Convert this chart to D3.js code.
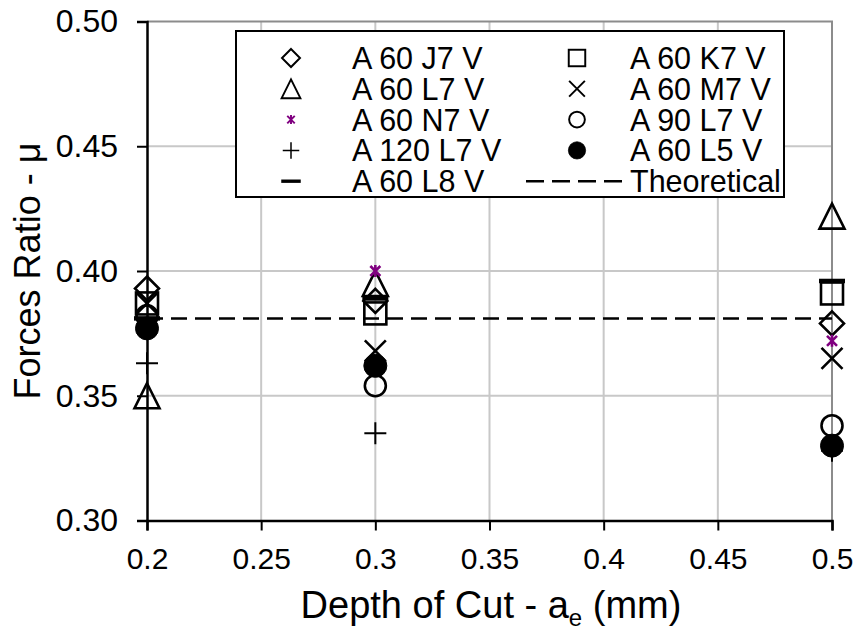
<!DOCTYPE html>
<html>
<head>
<meta charset="utf-8">
<script src="https://cdn.jsdelivr.net/npm/d3@7"></script>
<style>
  body { margin: 0; background: #fff; }
  svg text { font-family: "Liberation Sans", Arial, sans-serif; fill: #000; }
</style>
</head>
<body>
<svg id="chart" width="856" height="639"></svg>
<script>
// depth of cut values (mm)
var depth = [0.2, 0.3, 0.5];

// forces ratio per wheel
var J7 = [0.393, 0.388, 0.379];
var K7 = [0.387, 0.383, 0.391];
var L7 = [0.350, 0.395, 0.422];
var M7 = [0.387, 0.368, 0.365];
var N7 = [0.378, 0.400, 0.372];
var L7_90 = [0.382, 0.354, 0.338];
var L7_120 = [0.363, 0.335, 0.328];
var L5 = [0.377, 0.362, 0.330];
var L8 = [0.381, 0.389, 0.396];
var theoretical = 0.381;

var xTicks = [0.2, 0.25, 0.3, 0.35, 0.4, 0.45, 0.5];
var yTicks = [0.30, 0.35, 0.40, 0.45, 0.50];

var series = [
  {name: "A 60 J7 V", values: J7, shape: "diamond"},
  {name: "A 60 K7 V", values: K7, shape: "square"},
  {name: "A 60 L7 V", values: L7, shape: "triangle"},
  {name: "A 60 M7 V", values: M7, shape: "x"},
  {name: "A 60 N7 V", values: N7, shape: "star"},
  {name: "A 90 L7 V", values: L7_90, shape: "circle"},
  {name: "A 120 L7 V", values: L7_120, shape: "plus"},
  {name: "A 60 L5 V", values: L5, shape: "dot"},
  {name: "A 60 L8 V", values: L8, shape: "dash"}
];

var svg = d3.select("#chart");
var pLeft = 147, pRight = 832, pTop = 21.5, pBottom = 520.5;

var x = d3.scaleLinear().domain([0.2, 0.5]).range([pLeft, pRight]);
var y = d3.scaleLinear().domain([0.3, 0.5]).range([pBottom, pTop]);

// grid
svg.append("g").selectAll("line")
  .data(xTicks.slice(1, -1))
  .enter().append("line")
    .attr("x1", d => x(d)).attr("x2", d => x(d))
    .attr("y1", pTop).attr("y2", pBottom)
    .attr("stroke", "#c8c8c8").attr("stroke-width", 2);
svg.append("g").selectAll("line")
  .data(yTicks.slice(1, -1))
  .enter().append("line")
    .attr("x1", pLeft).attr("x2", pRight)
    .attr("y1", d => y(d)).attr("y2", d => y(d))
    .attr("stroke", "#c8c8c8").attr("stroke-width", 2);
// plot area border (top and right)
svg.append("path")
  .attr("d", "M" + pLeft + "," + pTop + "H" + pRight + "V" + pBottom)
  .attr("fill", "none").attr("stroke", "#8c8c8c").attr("stroke-width", 2);

// axes
var xAxis = svg.append("g").attr("transform", "translate(0," + pBottom + ")")
  .call(d3.axisBottom(x).tickValues(xTicks).tickFormat(d3.format("")).tickSize(10).tickPadding(17));
var yAxis = svg.append("g").attr("transform", "translate(" + pLeft + ",0)")
  .call(d3.axisLeft(y).tickValues(yTicks).tickFormat(d3.format(".2f")).tickSize(10).tickPadding(19));
[xAxis, yAxis].forEach(function(a){
  a.select(".domain").attr("stroke", "#000").attr("stroke-width", 2.5);
  a.selectAll(".tick line").attr("stroke", "#000").attr("stroke-width", 2);
  a.selectAll("text").style("font-size", "30px").attr("fill", "#000");
});
yAxis.selectAll("text").style("font-size", "32px");

// axis titles
svg.append("text")
  .attr("transform", "translate(40," + ((pTop + pBottom) / 2) + ") rotate(-90)")
  .attr("text-anchor", "middle")
  .style("font-size", "36px")
  .text("Forces Ratio - μ");
var xt = svg.append("text")
  .attr("x", 491).attr("y", 618)
  .attr("text-anchor", "middle")
  .style("font-size", "38px");
xt.append("tspan").text("Depth of Cut - a");
xt.append("tspan").attr("dy", 8).style("font-size", "24px").text("e");
xt.append("tspan").attr("dy", -8).text(" (mm)");

// marker shapes
function marker(g, shape, cx, cy) {
  if (shape === "diamond") {
    g.append("path").attr("d", "M" + cx + "," + (cy - 12) + "L" + (cx + 12) + "," + cy + "L" + cx + "," + (cy + 12) + "L" + (cx - 12) + "," + cy + "Z")
      .attr("fill", "none").attr("stroke", "#000").attr("stroke-width", 2.6);
  } else if (shape === "square") {
    g.append("rect").attr("x", cx - 11).attr("y", cy - 11).attr("width", 22).attr("height", 22)
      .attr("fill", "none").attr("stroke", "#000").attr("stroke-width", 2.6);
  } else if (shape === "triangle") {
    g.append("path").attr("d", "M" + cx + "," + (cy - 12.5) + "L" + (cx + 12.5) + "," + (cy + 12.5) + "L" + (cx - 12.5) + "," + (cy + 12.5) + "Z")
      .attr("fill", "none").attr("stroke", "#000").attr("stroke-width", 2.6);
  } else if (shape === "x") {
    g.append("path").attr("d", "M" + (cx - 10.5) + "," + (cy - 10.5) + "L" + (cx + 10.5) + "," + (cy + 10.5) + "M" + (cx + 10.5) + "," + (cy - 10.5) + "L" + (cx - 10.5) + "," + (cy + 10.5))
      .attr("stroke", "#000").attr("stroke-width", 2.6);
  } else if (shape === "star") {
    g.append("path").attr("d", "M" + (cx - 5) + "," + (cy - 5) + "L" + (cx + 5) + "," + (cy + 5) + "M" + (cx + 5) + "," + (cy - 5) + "L" + (cx - 5) + "," + (cy + 5) + "M" + cx + "," + (cy - 6) + "L" + cx + "," + (cy + 6))
      .attr("stroke", "#800080").attr("stroke-width", 2.6);
  } else if (shape === "circle") {
    g.append("circle").attr("cx", cx).attr("cy", cy).attr("r", 10.5)
      .attr("fill", "none").attr("stroke", "#000").attr("stroke-width", 2.6);
  } else if (shape === "dot") {
    g.append("circle").attr("cx", cx).attr("cy", cy).attr("r", 11.5)
      .attr("fill", "#000").attr("stroke", "#000").attr("stroke-width", 1);
  } else if (shape === "plus") {
    g.append("path").attr("d", "M" + (cx - 11) + "," + cy + "H" + (cx + 11) + "M" + cx + "," + (cy - 11) + "V" + (cy + 11))
      .attr("stroke", "#000").attr("stroke-width", 2);
  } else if (shape === "dash") {
    g.append("path").attr("d", "M" + (cx - 13) + "," + cy + "H" + (cx + 13))
      .attr("stroke", "#000").attr("stroke-width", 4.5);
  }
}

// points
series.forEach(function(s){
  var g = svg.append("g");
  s.values.forEach(function(v, i){ marker(g, s.shape, x(depth[i]), y(v)); });
});

// theoretical line
svg.append("line")
  .attr("x1", x(0.2)).attr("x2", x(0.5))
  .attr("y1", y(theoretical)).attr("y2", y(theoretical))
  .attr("stroke", "#000").attr("stroke-width", 2.5).attr("stroke-dasharray", "16,8");

// legend
var lg = svg.append("g");
lg.append("rect").attr("x", 236).attr("y", 31).attr("width", 548).attr("height", 166)
  .attr("fill", "#fff").attr("stroke", "#000").attr("stroke-width", 2);
var rowY = d3.range(5).map(i => 58 + i * 30.8);
var items = series.concat([{name: "Theoretical", shape: "line"}]);
items.forEach(function(s, i){
  var col = i % 2, row = Math.floor(i / 2);
  var sx = col === 0 ? 291 : 577, tx = col === 0 ? 352 : 630;
  var cy = rowY[row];
  if (s.shape === "line") {
    lg.append("line").attr("x1", 526).attr("x2", 622).attr("y1", cy).attr("y2", cy)
      .attr("stroke", "#000").attr("stroke-width", 2.5).attr("stroke-dasharray", "18,8");
  } else {
    var mg = lg.append("g").attr("transform", "translate(" + sx + "," + cy + ") scale(0.75) translate(" + (-sx) + "," + (-cy) + ")");
    marker(mg, s.shape, sx, cy);
  }
  lg.append("text").attr("x", tx).attr("y", cy).attr("dy", "0.36em")
    .style("font-size", "30.5px").text(s.name);
});
</script>
</body>
</html>
